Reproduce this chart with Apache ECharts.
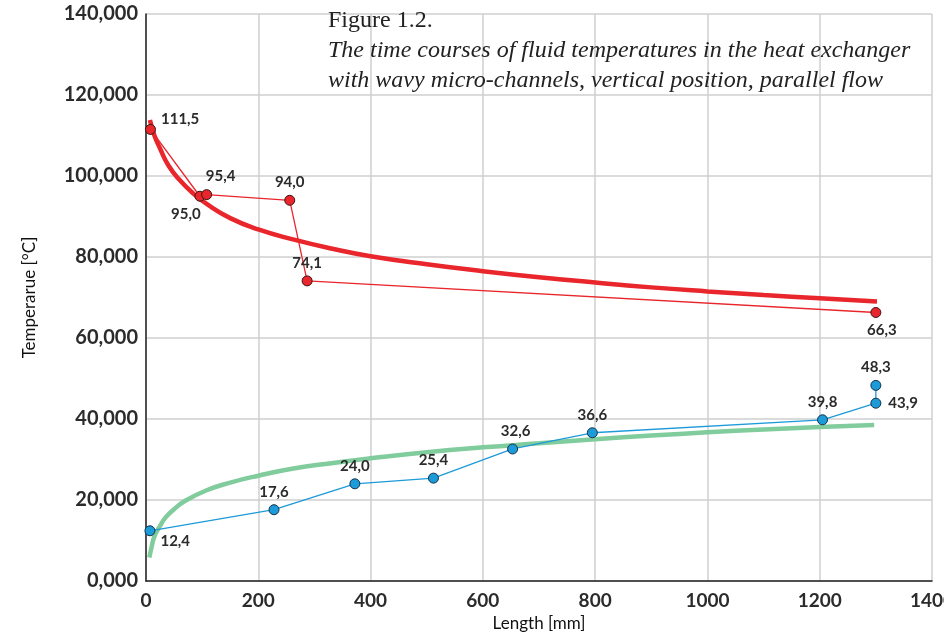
<!DOCTYPE html>
<html>
<head>
<meta charset="utf-8">
<script src="https://cdn.jsdelivr.net/npm/echarts@6/dist/echarts.min.js"></script>
<style>
  html, body { margin: 0; padding: 0; background: #fff; }
  #chart { width: 944px; height: 633px; }
</style>
</head>
<body>
<div id="chart"></div>
<script>
// ---- data ----
var hotX = [8, 96, 108, 256, 287, 1300];
var hotY = [111.5, 95.0, 95.4, 94.0, 74.1, 66.3];

var coldX = [7, 228, 372, 512, 653, 795, 1205, 1300, 1300];
var coldY = [12.4, 17.6, 24.0, 25.4, 32.6, 36.6, 39.8, 43.9, 48.3];

// trend curves
var hotTrendX = [7, 15, 25, 40, 60, 85, 108, 150, 200, 260, 330, 400, 500, 600, 700, 800, 900, 1000, 1100, 1200, 1302];
var hotTrendY = [113.8, 110.0, 106.8, 102.6, 99.0, 95.6, 93.1, 89.6, 86.8, 84.4, 82.1, 80.2, 78.2, 76.5, 75.0, 73.7, 72.5, 71.5, 70.6, 69.8, 69.0];

var coldTrendX = [6, 10, 15, 25, 35, 49, 70, 108, 150, 200, 260, 330, 400, 500, 600, 700, 800, 900, 1000, 1100, 1200, 1297];
var coldTrendY = [5.8, 8.4, 11.0, 13.6, 15.7, 17.6, 19.8, 22.4, 24.3, 26.0, 27.7, 29.1, 30.3, 31.8, 33.0, 34.0, 35.0, 35.9, 36.7, 37.4, 38.0, 38.5];

var xTicks = [0, 200, 400, 600, 800, 1000, 1200, 1400];
var yTicks = [0, 20, 40, 60, 80, 100, 120, 140];

///*********** label placement (style only) ***************///
var hotLabelPos = [
  { position: 'right', offset: [0, -10] },
  { position: 'bottom', offset: [-14, 0] },
  { position: 'top', offset: [14, 0] },
  { position: 'top' },
  { position: 'top' },
  { position: 'bottom', offset: [6, 0] }
];
var coldLabelPos = [
  { position: 'right', offset: [0, 10] },
  { position: 'top' }, { position: 'top' }, { position: 'top' },
  { position: 'top', offset: [3, 0] }, { position: 'top' }, { position: 'top' },
  { position: 'right', offset: [2, 0] },
  { position: 'top' }
];

function commaFmt(v, d) {
  return v.toFixed(d).replace('.', ',');
}

function pairs(xs, ys) {
  return xs.map(function (x, i) { return [x, ys[i]]; });
}

function labelled(xs, ys, pos) {
  return xs.map(function (x, i) {
    return { value: [x, ys[i]], label: pos[i] };
  });
}

var labelStyle = {
  show: true,
  fontFamily: 'Lato',
  fontWeight: 'bold',
  fontSize: 15,
  color: '#2b2b2b',
  distance: 5,
  formatter: function (p) { return commaFmt(p.value[1], 1); }
};

var chart = echarts.init(document.getElementById('chart'));

var option = {
  animation: false,
  title: {
    left: 323,
    top: 1,
    text: '{a|Figure 1.2.}\n{b|The time courses of fluid temperatures in the heat exchanger}\n{b|with wavy micro-channels, vertical position, parallel flow}',
    textStyle: {
      fontWeight: 'normal',
      rich: {
        a: { fontFamily: 'Liberation Serif', fontWeight: 'normal', fontSize: 24, color: '#222', lineHeight: 30 },
        b: { fontFamily: 'Liberation Serif', fontWeight: 'normal', fontStyle: 'italic', fontSize: 24, color: '#222', lineHeight: 30 }
      }
    }
  },
  grid: {
    left: 146, right: 12, top: 14, bottom: 52,
    outerBoundsMode: 'none'
  },
  xAxis: {
    type: 'value',
    min: 0, max: 1400, interval: 200,
    name: 'Length [mm]',
    nameLocation: 'middle',
    nameGap: 30,
    nameTextStyle: { fontFamily: 'Lato', fontSize: 17, color: '#111' },
    axisLine: { lineStyle: { color: '#222', width: 1.5 } },
    axisTick: { show: false },
    axisLabel: {
      margin: 10,
      fontFamily: 'Lato', fontWeight: 'bold', fontSize: 19, color: '#2b2b2b',
      formatter: function (v) { return xTicks.indexOf(v) >= 0 ? String(v) : ''; }
    },
    splitLine: { show: true, lineStyle: { color: '#cfcfcf', width: 1.5 } }
  },
  yAxis: {
    type: 'value',
    min: 0, max: 140, interval: 20,
    name: 'Temperarue [°C]',
    nameLocation: 'middle',
    nameGap: 108,
    nameTextStyle: { fontFamily: 'Lato', fontSize: 17, color: '#111' },
    axisLine: { show: true, lineStyle: { color: '#222', width: 1.5 } },
    axisTick: { show: false },
    axisLabel: {
      margin: 8,
      fontFamily: 'Lato', fontWeight: 'bold', fontSize: 20, color: '#2b2b2b',
      formatter: function (v) { return yTicks.indexOf(v) >= 0 ? commaFmt(v, 3) : ''; }
    },
    splitLine: { show: true, lineStyle: { color: '#cfcfcf', width: 1.5 } }
  },
  series: [
    {
      name: 'hot trend',
      type: 'line',
      smooth: true,
      showSymbol: false,
      silent: true,
      lineStyle: { color: '#e8262b', width: 4.5 },
      data: pairs(hotTrendX, hotTrendY),
      z: 2
    },
    {
      name: 'cold trend',
      type: 'line',
      smooth: true,
      showSymbol: false,
      silent: true,
      lineStyle: { color: '#80cc9c', width: 4.5 },
      data: pairs(coldTrendX, coldTrendY),
      z: 2
    },
    {
      name: 'hot',
      type: 'line',
      symbol: 'circle',
      symbolSize: 10,
      lineStyle: { color: '#e8262b', width: 1.3 },
      itemStyle: { color: '#e8262b', borderColor: '#3a1414', borderWidth: 1 },
      label: labelStyle,
      data: labelled(hotX, hotY, hotLabelPos),
      z: 3
    },
    {
      name: 'cold',
      type: 'line',
      symbol: 'circle',
      symbolSize: 10,
      lineStyle: { color: '#1d9ad8', width: 1.3 },
      itemStyle: { color: '#1d9ad8', borderColor: '#12324a', borderWidth: 1 },
      label: labelStyle,
      data: labelled(coldX, coldY, coldLabelPos),
      z: 3
    }
  ]
};

chart.setOption(option);
</script>
</body>
</html>
